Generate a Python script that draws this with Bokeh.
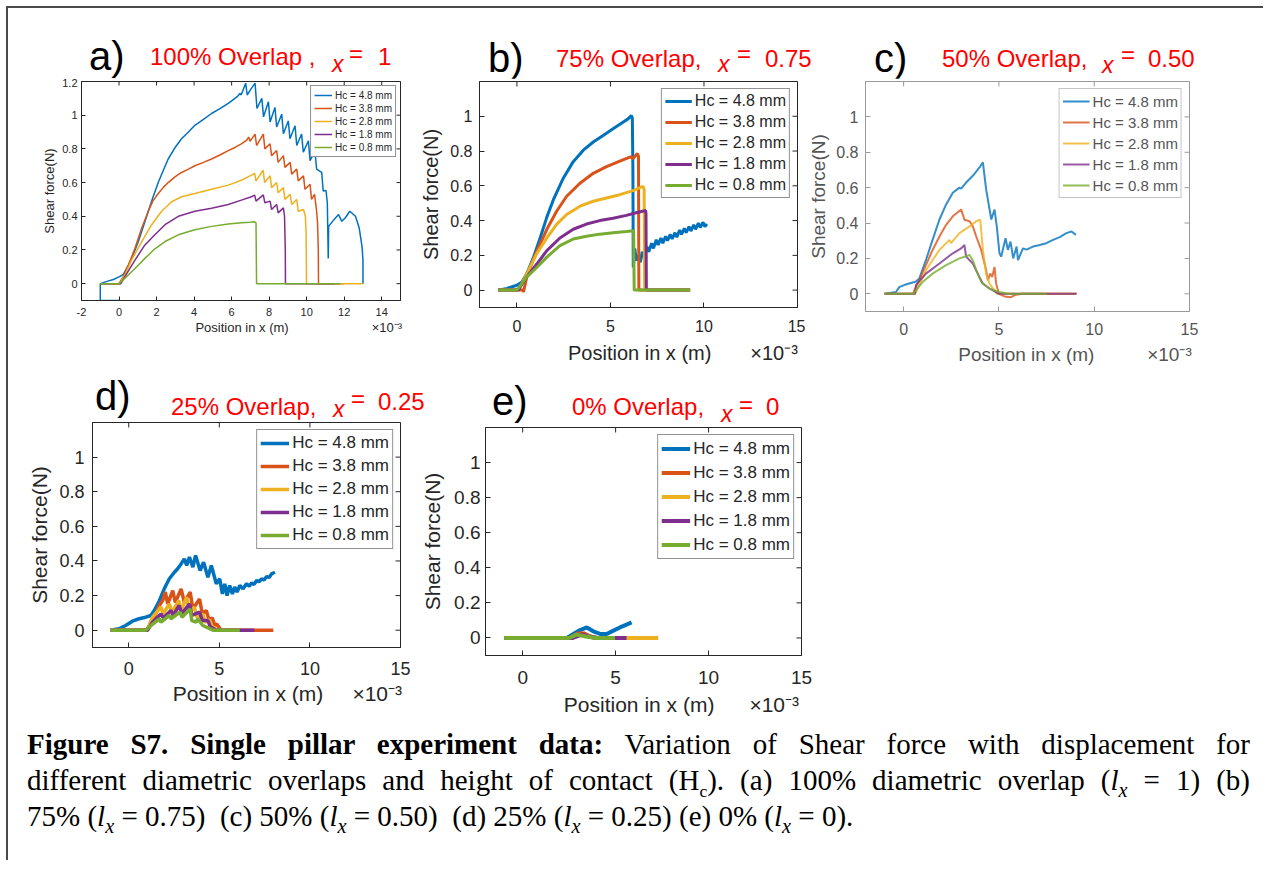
import math
from bokeh.plotting import figure
from bokeh.models import Range1d, FixedTicker, NumeralTickFormatter, Div
from bokeh.layouts import column, row
from bokeh.embed import file_html
from bokeh.resources import INLINE

# ---------------- data (x in units of 1e-3 m, shear force in N) ----------------
series_labels = ["Hc = 4.8 mm", "Hc = 3.8 mm", "Hc = 2.8 mm", "Hc = 1.8 mm", "Hc = 0.8 mm"]
series_colors = ["#0072BD", "#D95319", "#EDB120", "#7E2F8E", "#77AC30"]

# (a) 100 % overlap
a_x_48 = [0.0, -1.0, -1.0, -0.6, -0.3, 0.0, 0.23, 0.5, 0.75, 1.03, 1.3, 1.56, 1.8, 2.09, 2.35, 2.62, 3.0, 3.33, 3.7, 4.04,
          4.5, 4.93, 5.4, 5.82, 6.0, 6.17, 6.3, 6.45, 6.5, 6.58, 6.75, 6.83, 7.0, 7.25, 7.35, 7.61, 7.70, 7.96, 8.05, 8.31,
          8.40, 8.67, 8.76, 9.02, 9.11, 9.38, 9.47, 9.73, 9.82, 10.09, 10.18, 10.44, 10.53, 10.80, 10.88, 11.03, 11.10, 11.15,
          11.17, 11.45, 11.7, 11.87, 12.05, 12.3, 12.6, 12.8, 12.95, 13.0, 13.0]
a_y_48 = [-0.1, -0.1, 0.0, 0.015, 0.025, 0.04, 0.055, 0.11, 0.17, 0.25, 0.34, 0.43, 0.51, 0.60, 0.67, 0.74, 0.81, 0.86, 0.90, 0.94,
          0.975, 1.01, 1.04, 1.07, 1.085, 1.10, 1.11, 1.13, 1.12, 1.14, 1.19, 1.12, 1.15, 1.19, 1.04, 1.10, 0.99, 1.08, 0.96, 1.045,
          0.93, 1.006, 0.89, 0.966, 0.86, 0.937, 0.82, 0.888, 0.78, 0.848, 0.73, 0.789, 0.68, 0.661, 0.55, 0.553, 0.48, 0.15,
          0.34, 0.38, 0.41, 0.37, 0.39, 0.43, 0.40, 0.33, 0.22, 0.14, 0.0]
a_x_38 = [-1.0, 0.0, 0.23, 0.5, 0.85, 1.21, 1.56, 1.8, 2.09, 2.35, 2.62, 3.0, 3.33, 3.7, 4.04, 4.5, 4.93, 5.4, 5.82, 6.2,
          6.52, 6.79, 6.91, 6.98, 7.25, 7.33, 7.69, 7.77, 8.05, 8.13, 8.40, 8.48, 8.76, 8.84, 9.12, 9.20, 9.47, 9.55, 9.83, 9.91,
          10.18, 10.26, 10.42, 10.52, 10.58, 10.62, 10.63, 12.0]
a_y_38 = [0.0, 0.0, 0.043, 0.11, 0.21, 0.33, 0.43, 0.49, 0.535, 0.57, 0.60, 0.635, 0.66, 0.68, 0.70, 0.72, 0.74, 0.765, 0.79, 0.81,
          0.83, 0.85, 0.87, 0.845, 0.888, 0.82, 0.888, 0.80, 0.83, 0.76, 0.79, 0.72, 0.76, 0.69, 0.72, 0.65, 0.68, 0.61, 0.64, 0.56,
          0.59, 0.50, 0.53, 0.44, 0.36, 0.2, 0.0, 0.0]
a_x_28 = [-1.0, 0.05, 0.32, 0.67, 1.21, 1.74, 2.27, 2.8, 3.33, 4.04, 4.93, 5.82, 6.52, 7.06, 7.23, 7.30, 7.68, 7.76, 8.05, 8.13,
          8.40, 8.48, 8.76, 8.84, 9.12, 9.20, 9.47, 9.55, 9.83, 9.93, 9.97, 9.99, 13.0]
a_y_28 = [0.0, 0.0, 0.053, 0.14, 0.25, 0.35, 0.43, 0.486, 0.516, 0.535, 0.56, 0.585, 0.614, 0.644, 0.654, 0.61, 0.673, 0.60, 0.64, 0.57,
          0.60, 0.54, 0.57, 0.50, 0.53, 0.47, 0.50, 0.43, 0.44, 0.40, 0.30, 0.0, 0.0]
a_x_18 = [-1.0, 0.1, 0.32, 0.85, 1.38, 1.91, 2.45, 3.16, 4.04, 4.93, 5.82, 6.52, 7.06, 7.23, 7.30, 7.69, 7.77, 8.05, 8.13, 8.40,
          8.48, 8.76, 8.82, 8.86, 8.87, 11.5]
a_y_18 = [0.0, 0.0, 0.043, 0.14, 0.23, 0.29, 0.35, 0.40, 0.43, 0.447, 0.47, 0.496, 0.516, 0.526, 0.49, 0.527, 0.48, 0.49, 0.44, 0.47,
          0.42, 0.45, 0.40, 0.2, 0.0, 0.0]
a_x_08 = [-1.0, 0.0, 0.32, 0.85, 1.38, 1.91, 2.45, 3.16, 4.04, 4.93, 5.82, 6.52, 7.0, 7.23, 7.30, 7.33, 11.8]
a_y_08 = [0.0, 0.0, 0.033, 0.09, 0.15, 0.207, 0.25, 0.29, 0.32, 0.34, 0.354, 0.362, 0.365, 0.368, 0.36, 0.0, 0.0]

# (b) 75 % overlap
b_x_48 = [-1.0, -0.53, 0.0, 0.27, 0.53, 0.89, 1.24, 1.6, 1.95, 2.48, 3.01, 3.55, 4.08, 4.61, 5.14, 5.67, 5.94, 6.12, 6.17, 6.2,
          6.22, 6.3, 6.38, 6.5, 6.6, 6.7, 6.8, 6.95, 7.05, 7.2, 7.3, 7.45, 7.55, 7.7, 7.8, 7.95, 8.05, 8.2, 8.3, 8.45,
          8.55, 8.7, 8.8, 8.95, 9.05, 9.2, 9.3, 9.45, 9.55, 9.7, 9.8, 9.95, 10.05, 10.16]
b_y_48 = [0.0, 0.01, 0.028, 0.047, 0.095, 0.19, 0.30, 0.42, 0.52, 0.644, 0.739, 0.805, 0.852, 0.89, 0.928, 0.966, 0.985, 1.004, 0.99, 0.70,
          0.13, 0.24, 0.17, 0.20, 0.16, 0.22, 0.19, 0.25, 0.22, 0.27, 0.24, 0.29, 0.26, 0.30, 0.27, 0.31, 0.285, 0.32, 0.295, 0.33,
          0.305, 0.345, 0.32, 0.355, 0.33, 0.365, 0.34, 0.375, 0.35, 0.385, 0.36, 0.39, 0.365, 0.38]
b_x_38 = [-1.0, 0.3, 0.35, 0.53, 0.89, 1.24, 1.6, 2.13, 2.66, 3.37, 4.08, 4.79, 5.5, 5.94, 6.12, 6.2, 6.44, 6.5, 6.52, 9.26]
b_y_38 = [0.0, 0.0, -0.01, 0.076, 0.18, 0.265, 0.35, 0.455, 0.54, 0.615, 0.672, 0.71, 0.742, 0.761, 0.767, 0.755, 0.786, 0.77, 0.0, 0.0]
b_x_28 = [-1.0, 0.1, 0.18, 0.53, 1.06, 1.6, 2.13, 2.66, 3.37, 4.08, 4.79, 5.5, 6.21, 6.74, 6.8, 6.83, 9.26]
b_y_28 = [0.0, 0.0, 0.02, 0.095, 0.21, 0.30, 0.38, 0.435, 0.483, 0.511, 0.53, 0.549, 0.572, 0.597, 0.58, 0.0, 0.0]
b_x_18 = [-1.0, 0.1, 0.18, 0.53, 1.06, 1.6, 2.3, 3.01, 3.72, 4.43, 5.14, 5.85, 6.38, 6.88, 6.9, 6.92, 9.26]
b_y_18 = [0.0, 0.0, 0.02, 0.076, 0.15, 0.227, 0.30, 0.35, 0.38, 0.40, 0.413, 0.43, 0.445, 0.458, 0.44, 0.0, 0.0]
b_x_08 = [-1.0, 0.0, 0.53, 1.06, 1.6, 2.3, 3.01, 3.72, 4.43, 5.14, 5.85, 6.21, 6.24, 6.27, 9.26]
b_y_08 = [0.0, 0.0, 0.076, 0.13, 0.19, 0.256, 0.294, 0.31, 0.322, 0.33, 0.337, 0.341, 0.33, 0.0, 0.0]

# (c) 50 % overlap
c_x_48 = [-1.0, -0.4, -0.23, 0.12, 0.65, 0.82, 1.17, 1.52, 1.88, 2.23, 2.58, 2.93, 3.02, 3.28, 3.63, 3.98, 4.16, 4.33, 4.6, 4.77,
          4.89, 5.03, 5.12, 5.35, 5.47, 5.61, 5.75, 5.93, 6.0, 6.26, 6.45, 6.79, 7.14, 7.49, 7.84, 8.19, 8.54, 8.81, 9.04]
c_y_48 = [0.0, 0.01, 0.038, 0.053, 0.07, 0.086, 0.19, 0.305, 0.42, 0.505, 0.571, 0.60, 0.595, 0.629, 0.667, 0.714, 0.743, 0.59, 0.42, 0.476,
          0.38, 0.229, 0.21, 0.314, 0.248, 0.295, 0.20, 0.267, 0.19, 0.257, 0.25, 0.267, 0.276, 0.286, 0.305, 0.32, 0.343, 0.352, 0.333]
c_x_38 = [-1.0, 0.5, 0.56, 0.82, 1.17, 1.52, 1.88, 2.23, 2.58, 3.02, 3.19, 3.46, 3.63, 3.81, 4.07, 4.33, 4.42, 4.54, 4.65, 4.77,
          4.85, 5.0, 5.3, 5.6, 5.9, 6.2, 9.07]
c_y_38 = [0.0, 0.0, 0.02, 0.076, 0.162, 0.248, 0.324, 0.39, 0.438, 0.476, 0.419, 0.41, 0.381, 0.324, 0.248, 0.133, 0.076, 0.114, 0.095, 0.152,
          0.06, 0.0, -0.015, -0.02, -0.005, 0.0, 0.0]
c_x_28 = [-1.0, 0.6, 0.82, 1.17, 1.52, 1.88, 2.4, 2.49, 2.93, 3.46, 3.81, 4.02, 4.16, 4.33, 4.51, 4.9, 9.07]
c_y_28 = [0.0, 0.0, 0.05, 0.133, 0.19, 0.248, 0.305, 0.286, 0.343, 0.381, 0.41, 0.419, 0.248, 0.114, 0.057, 0.0, 0.0]
c_x_18 = [-1.0, 0.6, 0.65, 1.17, 1.88, 2.58, 3.02, 3.19, 3.28, 3.63, 3.89, 4.16, 4.51, 5.0, 9.07]
c_y_18 = [0.0, 0.0, 0.05, 0.114, 0.171, 0.229, 0.257, 0.276, 0.21, 0.171, 0.114, 0.057, 0.03, 0.0, 0.0]
c_x_08 = [-1.0, 0.5, 1.0, 1.52, 2.23, 2.93, 3.46, 3.63, 3.81, 4.07, 4.51, 5.03, 5.5, 7.5]
c_y_08 = [0.0, 0.0, 0.067, 0.114, 0.162, 0.2, 0.219, 0.19, 0.133, 0.067, 0.029, 0.01, 0.0, 0.0]

# (d) 25 % overlap
d_x_48 = [-1.0, -0.54, -0.17, 0.2, 0.57, 0.94, 1.22, 1.41, 1.69, 1.96, 2.24, 2.52, 2.7, 2.89, 3.07, 3.2, 3.35, 3.54, 3.69, 3.94,
          4.13, 4.37, 4.56, 4.83, 5.02, 5.17, 5.3, 5.43, 5.57, 5.72, 5.85, 5.98, 6.13, 6.31, 6.5, 6.65, 6.78, 6.92, 7.06, 7.2,
          7.33, 7.47, 7.61, 7.75, 7.89, 8.07]
d_y_48 = [0.0, 0.008, 0.027, 0.052, 0.066, 0.075, 0.085, 0.114, 0.17, 0.239, 0.297, 0.335, 0.355, 0.383, 0.412, 0.374, 0.422, 0.364, 0.432, 0.345,
          0.393, 0.306, 0.374, 0.268, 0.297, 0.21, 0.268, 0.2, 0.258, 0.21, 0.249, 0.22, 0.258, 0.239, 0.268, 0.255, 0.272, 0.265, 0.287, 0.28,
          0.297, 0.29, 0.31, 0.305, 0.326, 0.335]
d_x_38 = [-1.0, 1.0, 1.22, 1.5, 1.69, 1.87, 2.02, 2.15, 2.43, 2.57, 2.89, 3.07, 3.39, 3.54, 3.91, 4.06, 4.28, 4.43, 4.61, 4.74,
          4.87, 5.1, 7.98]
d_y_38 = [0.0, 0.0, 0.046, 0.094, 0.143, 0.171, 0.22, 0.152, 0.229, 0.16, 0.239, 0.16, 0.22, 0.123, 0.18, 0.094, 0.114, 0.06, 0.071, 0.03,
          0.035, 0.0, 0.0]
d_x_28 = [-1.0, 1.04, 1.31, 1.78, 1.91, 2.24, 2.39, 2.76, 2.89, 3.2, 3.35, 3.63, 3.76, 4.09, 4.22, 4.46, 4.6, 4.93, 6.5]
d_y_28 = [0.0, 0.0, 0.075, 0.133, 0.094, 0.152, 0.104, 0.171, 0.114, 0.19, 0.104, 0.133, 0.075, 0.094, 0.046, 0.06, 0.02, 0.0, 0.0]
d_x_18 = [-1.0, 1.04, 1.31, 1.78, 1.91, 2.33, 2.46, 2.78, 2.93, 3.35, 3.48, 3.91, 4.06, 4.37, 4.5, 4.83, 6.93]
d_y_18 = [0.0, 0.0, 0.046, 0.094, 0.071, 0.114, 0.085, 0.143, 0.094, 0.152, 0.085, 0.104, 0.056, 0.056, 0.02, 0.0, 0.0]
d_x_08 = [-1.0, 0.94, 1.22, 1.69, 1.78, 2.24, 2.33, 2.83, 2.94, 3.39, 3.48, 3.72, 3.81, 4.09, 4.65, 6.13]
d_y_08 = [0.0, 0.0, 0.027, 0.066, 0.046, 0.085, 0.066, 0.104, 0.075, 0.123, 0.056, 0.046, 0.065, 0.027, 0.0, 0.0]

# (e) 0 % overlap
e_x_48 = [-1.0, 2.38, 2.73, 3.09, 3.45, 3.8, 4.16, 4.52, 4.88, 5.23, 5.59, 5.86]
e_y_48 = [0.0, 0.0, 0.023, 0.045, 0.06, 0.038, 0.023, 0.023, 0.042, 0.06, 0.076, 0.089]
e_x_38 = [-1.0, 2.5, 3.0, 3.3, 3.63, 4.0, 5.0]
e_y_38 = [0.0, 0.0, 0.026, 0.026, 0.008, 0.0, 0.0]
e_x_28 = [-1.0, 2.6, 3.1, 3.5, 3.9, 7.29]
e_y_28 = [0.0, 0.0, 0.018, 0.012, 0.0, 0.0]
e_x_18 = [-1.0, 2.7, 3.2, 3.6, 4.0, 5.59]
e_y_18 = [0.0, 0.0, 0.02, 0.008, 0.0, 0.0]
e_x_08 = [-1.0, 2.5, 2.9, 3.4, 3.9, 4.97]
e_y_08 = [0.0, 0.0, 0.019, 0.008, 0.0, 0.0]

x_ticks_a = [-2, 0, 2, 4, 6, 8, 10, 12, 14]
x_ticks_other = [0, 5, 10, 15]
y_ticks_a = [0, 0.2, 0.4, 0.6, 0.8, 1.0, 1.2]
y_ticks_other = [0, 0.2, 0.4, 0.6, 0.8, 1.0]

x_label = "Position in x (m)"
y_label = "Shear force(N)"
x_scale_note = "\u00d710\u207b\u00b3"
panel_letters = ["a)", "b)", "c)", "d)", "e)"]
panel_titles = ["100% Overlap ,", "75% Overlap,", "50% Overlap,", "25% Overlap,", "0% Overlap,"]
panel_lx = ["1", "0.75", "0.50", "0.25", "0"]

X_MIN, X_MAX, Y_MIN, Y_MAX = -2, 15, -0.1, 1.2
AX = "#262626"
NB = "\u00a0"


def xlabel_text(s):
    """Centre the axis label where the reference has it and put the x10^-3 note at the right."""
    fs = s["lfs"]
    sp = 0.278 * fs
    pw = 7.168 * fs
    xw = 2.4 * fs
    fl = s["fl"]
    fr = fl + s["fw"]
    c = (fl + fr) / 2
    g = s["xs"] - (s["ps"] + pw)
    e_end = s["xs"] + xw
    start = 2 * c - e_end
    lpad = s["ps"] - start
    return NB * max(0, round(lpad / sp)) + x_label + NB * max(1, round(g / sp)) + x_scale_note


def panel(xs, ys, s):
    p = figure(width=s["w"], height=s["h"], x_range=Range1d(X_MIN, X_MAX), y_range=Range1d(Y_MIN, Y_MAX),
               output_backend="svg", toolbar_location=None,
               min_border_left=s["ml"], min_border_right=s["mr"],
               min_border_top=s["mt"], min_border_bottom=s["mb"])
    p.xgrid.visible = False
    p.ygrid.visible = False
    p.outline_line_color = s["axc"]
    p.outline_line_width = 1
    p.background_fill_color = "white"
    p.border_fill_color = "white"
    for x, y, c, lab in zip(xs, ys, series_colors, series_labels):
        n = min(len(x), len(y))
        p.line(x[:n], y[:n], line_color=c, line_width=s["lw"], line_alpha=s["alpha"], legend_label=lab)
    # box ticks on the top and right edges (half of each dash is clipped by the frame)
    p.scatter([t for t in s["xt"]], [Y_MAX] * len(s["xt"]), marker="dash", size=2 * s["tick"], angle=math.pi / 2,
              line_color=s["axc"], line_width=1)
    p.scatter([X_MAX] * len(s["yt"]), [t for t in s["yt"]], marker="dash", size=2 * s["tick"],
              line_color=s["axc"], line_width=1)
    for ax, ticks in ((p.xaxis[0], s["xt"]), (p.yaxis[0], s["yt"])):
        ax.ticker = FixedTicker(ticks=ticks)
        ax.major_tick_in = s["tick"]
        ax.major_tick_out = 0
        ax.minor_tick_line_color = None
        ax.axis_line_color = s["axc"]
        ax.major_tick_line_color = s["axc"]
        ax.major_label_text_font = "Liberation Sans"
        ax.major_label_text_font_size = f'{s["fs"]}px'
        ax.major_label_text_color = s["txc"]
        ax.major_label_text_line_height = 1.0
        ax.axis_label_text_font = "Liberation Sans"
        ax.axis_label_text_font_size = f'{s["lfs"]}px'
        ax.axis_label_text_font_style = "normal"
        ax.axis_label_text_color = s["txc"]
        ax.axis_label_text_line_height = 1.0
    p.xaxis[0].formatter = NumeralTickFormatter(format="0")
    p.yaxis[0].formatter = NumeralTickFormatter(format="0.[0]")
    p.xaxis[0].axis_label = xlabel_text(s)
    p.yaxis[0].axis_label = y_label
    p.xaxis[0].major_label_standoff = s["xls"]
    p.yaxis[0].major_label_standoff = s["yls"]
    p.xaxis[0].axis_label_standoff = s["xas"]
    p.yaxis[0].axis_label_standoff = s["yas"]
    lg = p.legend[0]
    lg.location = "top_right"
    lg.margin = s["lm"]
    lg.padding = s["lp"]
    lg.spacing = s["lsp"]
    lg.glyph_width = s["gw"]
    lg.glyph_height = s["lh"]
    lg.label_height = s["lh"]
    lg.label_standoff = 3
    lg.label_text_font = "Liberation Sans"
    lg.label_text_font_size = f'{s["lfs_leg"]}px'
    lg.label_text_color = s["legc"]
    lg.border_line_color = s["legb"]
    lg.border_line_width = 1
    lg.background_fill_alpha = 1.0
    return p


# plots in one row share their top and bottom border sizes, so frame heights are set through the figure heights
T1, B1 = 3, 72
T2, B2 = 3, 77
spec_a = dict(w=400, h=T1 + 219 + B1, ml=71, mr=10, mt=T1, mb=B1, fl=81, fw=319, lw=1.5, alpha=1.0, fs=11, lfs=13,
              xt=x_ticks_a, yt=y_ticks_a, tick=4, axc=AX, txc="#262626", xls=7, yls=4, xas=1, yas=2,
              lm=4, lp=3, lsp=1, gw=18, lh=12, lfs_leg=10, legc="#262626", legb="#262626", ps=195, xs=370)
spec_b = dict(w=395, h=T1 + 226 + B1, ml=69, mr=8, mt=T1, mb=B1, fl=479, fw=318, lw=3, alpha=1.0, fs=16, lfs=20,
              xt=x_ticks_other, yt=y_ticks_other, tick=5, axc=AX, txc="#262626", xls=12, yls=7, xas=7, yas=5,
              lm=7, lp=3, lsp=3, gw=27, lh=18, lfs_leg=16, legc="#262626", legb="#262626", ps=567, xs=750)
spec_c = dict(w=458, h=T1 + 230 + B1, ml=60, mr=74, mt=T1, mb=B1, fl=865, fw=324, lw=2, alpha=0.8, fs=16, lfs=19,
              xt=x_ticks_other, yt=y_ticks_other, tick=5, axc="#9a9a9a", txc="#555555", xls=11, yls=7, xas=6, yas=4,
              lm=7, lp=3, lsp=3, gw=27, lh=18, lfs_leg=15, legc="#555555", legb="#8a8a8a", ps=958, xs=1145)
spec_d = dict(w=405, h=T2 + 225 + B2, ml=82, mr=15, mt=T2, mb=B2, fl=92, fw=308, lw=3.5, alpha=1.0, fs=18, lfs=21,
              xt=x_ticks_other, yt=y_ticks_other, tick=5, axc=AX, txc="#262626", xls=14, yls=8, xas=4, yas=5,
              lm=7, lp=3, lsp=3, gw=29, lh=20, lfs_leg=17, legc="#262626", legb="#262626", ps=170, xs=352)
spec_e = dict(w=406, h=T2 + 228 + B2, ml=70, mr=20, mt=T2, mb=B2, fl=485, fw=316, lw=4, alpha=1.0, fs=19, lfs=21,
              xt=x_ticks_other, yt=y_ticks_other, tick=5, axc=AX, txc="#262626", xls=15, yls=5, xas=6, yas=7,
              lm=7, lp=3, lsp=3, gw=29, lh=21, lfs_leg=17, legc="#262626", legb="#262626", ps=564, xs=750)

pa = panel([a_x_48, a_x_38, a_x_28, a_x_18, a_x_08], [a_y_48, a_y_38, a_y_28, a_y_18, a_y_08], spec_a)
pb = panel([b_x_48, b_x_38, b_x_28, b_x_18, b_x_08], [b_y_48, b_y_38, b_y_28, b_y_18, b_y_08], spec_b)
pc = panel([c_x_48, c_x_38, c_x_28, c_x_18, c_x_08], [c_y_48, c_y_38, c_y_28, c_y_18, c_y_08], spec_c)
pd = panel([d_x_48, d_x_38, d_x_28, d_x_18, d_x_08], [d_y_48, d_y_38, d_y_28, d_y_18, d_y_08], spec_d)
pe = panel([e_x_48, e_x_38, e_x_28, e_x_18, e_x_08], [e_y_48, e_y_38, e_y_28, e_y_18, e_y_08], spec_e)


# ---------------- panel headings (rich text: black letter, red title, italic subscript x) ----------------
def svg_t(t, x, y, size, color="black", font="Lato", style="normal"):
    return (f'<text x="{x}" y="{y}" font-family="{font}" font-size="{size}px" font-style="{style}" '
            f'fill="{color}">{t}</text>')


RED = "#FF0000"
MATHF = "Liberation Serif"
# (page x of letter, baseline), (page x of title, baseline), (x of subscript, baseline), (x of '=', baseline), (x of value, baseline)
head_pos = [
    ((89, 70), (150, 65), (332, 72), (349, 62), (378, 65)),
    ((488, 72), (556, 67), (718, 72), (737, 62), (765, 67)),
    ((874, 72), (942, 67), (1102, 73), (1121, 63), (1148, 67)),
    ((95, 410), (171, 415), (333, 417), (351, 407), (378, 410)),
    ((492, 415), (572, 415), (721, 422), (739, 413), (766, 415)),
]

ROW1_TOP, HEAD1_H, HEAD2_H, E_SHIFT = 10, 68, 36, 5
ROW1_FIG_H = max(spec_a["h"], spec_b["h"], spec_c["h"])
ROW2_TOP = ROW1_TOP + HEAD1_H + ROW1_FIG_H


def heading_svg(indices, ox, oy, w, h):
    parts = [f'<svg xmlns="http://www.w3.org/2000/svg" width="{w}" height="{h}" style="display:block;overflow:visible">']
    for i in indices:
        (lx, ly), (tx, ty), (sx, sy), (ex, ey), (vx, vy) = head_pos[i]
        parts.append(svg_t(panel_letters[i], lx - ox, ly - oy, 40))
        parts.append(svg_t(panel_titles[i], tx - ox, ty - oy, 24, RED))
        parts.append(svg_t("x", sx - ox, sy - oy, 23, RED, MATHF, "italic"))
        parts.append(svg_t("=", ex - ox, ey - oy, 24, RED))
        parts.append(svg_t(panel_lx[i], vx - ox, vy - oy, 24, RED))
    parts.append('</svg>')
    return "".join(parts)


head1 = Div(text=heading_svg([0, 1, 2], 10, ROW1_TOP, 1253, HEAD1_H), width=1253, height=HEAD1_H, margin=0)
head2 = Div(text=heading_svg([3, 4], 10, ROW2_TOP, 811, HEAD2_H), width=811, height=HEAD2_H, margin=0)

# ---------------- caption ----------------
lx = '<i>l</i><sub style="font-size:0.7em;line-height:0"><i>x</i></sub>'
eq = ' = '
line_style = "white-space:nowrap;text-align:justify;text-align-last:justify;"
caption_html = (
    '<div style="font-family:\'Liberation Serif\';font-size:29px;line-height:36px;color:black;'
    'width:1223px;margin-left:17px;margin-top:-6px;">'
    f'<div style="{line_style}"><b>Figure S7. Single pillar experiment data:</b> Variation of Shear force with displacement for</div>'
    f'<div style="{line_style}">different diametric overlaps and height of contact (H<sub style="font-size:0.6em;line-height:0">c</sub>). '
    f'(a) 100% diametric overlap ({lx}{eq}1) (b)</div>'
    f'<div style="white-space:nowrap;text-align:left;">75% ({lx}{eq}0.75)&nbsp; (c) 50% ({lx}{eq}0.50)&nbsp; '
    f'(d) 25% ({lx}{eq}0.25) (e) 0% ({lx}{eq}0).</div>'
    '</div>'
)
cap = Div(text=caption_html, width=1253, height=128, margin=0)

e_spacer = Div(text="", width=406, height=E_SHIFT, margin=0)
row1 = column(head1, row(pa, pb, pc, spacing=0), spacing=0)
row2 = column(head2, row(pd, column(e_spacer, pe, spacing=0), spacing=0), spacing=0)
root = column(row1, row2, cap, spacing=0,
              styles={"border-left": "2px solid #4a4a4a", "border-top": "2px solid #4a4a4a",
                      "margin-left": "6px", "margin-top": "6px", "padding-left": "2px", "padding-top": "2px"})

open("out.html", "w").write(file_html(root, INLINE))
